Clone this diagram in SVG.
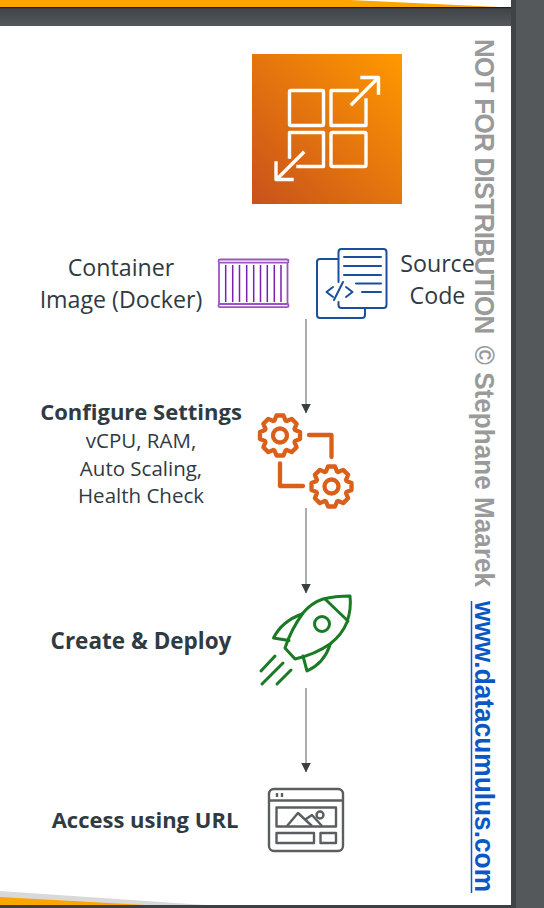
<svg xmlns="http://www.w3.org/2000/svg" width="544" height="908" viewBox="0 0 544 908">
<style>
.t{font-family:"Open Sans","Noto Sans","Liberation Sans",sans-serif;fill:#2f3a42;text-anchor:middle}
.r{font-size:23.200px}
.s{font-size:20.500px}
.b{font-weight:700;font-size:22px}
.w{fill:none;stroke:#fff;stroke-width:3.400;stroke-linejoin:round;stroke-linecap:square}
.pur{fill:none;stroke:#9a55c2;stroke-width:1.800}
.blu{fill:none;stroke:#1a4f9c;stroke-width:2;stroke-linecap:round;stroke-linejoin:round}
.org{fill:none;stroke:#d9601a;stroke-width:4.300;stroke-linejoin:round;stroke-linecap:round}
.grn{fill:none;stroke:#1b7a24;stroke-width:3;stroke-linejoin:round;stroke-linecap:round}
.gry{fill:none;stroke:#5b5e60;stroke-width:2.400;stroke-linejoin:round}
.c{fill:none;stroke:#8a8a8a;stroke-width:1.400}
</style>
<defs>
<linearGradient id="g" x1="0" y1="1" x2="1" y2="0"><stop offset="0" stop-color="#c8511b"/><stop offset="1" stop-color="#ff9900"/></linearGradient>
<linearGradient id="bar" x1="0" y1="0" x2="0" y2="1"><stop offset="0" stop-color="#3f4347"/><stop offset="1" stop-color="#55595c"/></linearGradient>
<marker id="a" viewBox="0 0 10 10" refX="9.500" refY="5" markerWidth="10" markerHeight="10" markerUnits="userSpaceOnUse" orient="auto"><path d="M0 0L10 5L0 10Z" fill="#3a3f42"/></marker>
<g id="gear"><path class="org" d="M-5.500-15L-3.500-20L3.500-20L5.500-15L6.720-14.500L11.670-16.620L16.620-11.670L14.500-6.720L15-5.500L20-3.500L20 3.500L15 5.500L14.500 6.720L16.620 11.670L11.670 16.620L6.720 14.500L5.500 15L3.500 20L-3.500 20L-5.500 15L-6.720 14.500L-11.670 16.620L-16.620 11.670L-14.500 6.720L-15 5.500L-20 3.500L-20-3.500L-15-5.500L-14.500-6.720L-16.620-11.670L-11.670-16.620L-6.720-14.500Z"/><circle class="org" r="7"/></g>
</defs>
<rect width="544" height="908" fill="#fff"/>
<g id="frame">
<path d="M0 0H510V7H0Z" fill="#fba500"/>
<path d="M350 0L510 7.500V0Z" fill="#fff"/>
<path d="M0 8H511V26H0Z" fill="url(#bar)"/>
<rect y="7" width="511" height="1.200" fill="#1c2024"/>
<rect x="511" width="33" height="908" fill="#54585b"/>
<rect x="511" width="5" height="908" fill="#3f4347"/>
<path d="M0 891L205 905H0Z" fill="#d9d9d9"/>
<path d="M0 897L145 905H0Z" fill="#fba500"/>
<rect y="905" width="511" height="3" fill="#3c4044"/>
</g>
<g id="watermark" font-family="'Liberation Sans',Arial,sans-serif" font-weight="700" font-size="28">
<text transform="translate(475 39) rotate(90) scale(.934 1)" fill="#9a9a9a"><tspan letter-spacing="-.86">NOT FOR DISTRIBUTION</tspan> <tspan dx="5">©</tspan> Stephane Maarek</text>
<text transform="translate(475 601) rotate(90) scale(.939 1)" fill="#0b57c4">www.datacumulus.com</text>
<line x1="471.500" y1="601" x2="471.500" y2="893" stroke="#0b57c4" stroke-width="1.500"/>
</g>
<g id="connectors">
<line class="c" x1="306" y1="319" x2="306" y2="413" marker-end="url(#a)"/>
<line class="c" x1="306" y1="508" x2="306" y2="593" marker-end="url(#a)"/>
<line class="c" x1="306" y1="688" x2="306" y2="772" marker-end="url(#a)"/>
</g>
<g id="node-scale">
<rect x="252" y="54" width="150" height="150" fill="url(#g)"/>
<rect class="w" x="289.500" y="90.500" width="34" height="35" rx="1.500"/>
<path class="w" d="M357 90.500H331V125.500H366V100"/>
<rect class="w" x="331" y="132.500" width="35" height="34" rx="1.500"/>
<path class="w" d="M289.500 157V132.500H323.500V166.500H298"/>
<path class="w" d="M352 104L377 79M362 77.500H378.500V93"/>
<path class="w" d="M303 153L277 179M276 163V179.500H292"/>
</g>
<g id="node-container">
<text class="t r" x="121" y="276">Container</text>
<text class="t r" x="121" y="307.500">Image (Docker)</text>
<rect class="pur" x="218.500" y="259.500" width="70" height="3.200" rx="1.500"/>
<rect class="pur" x="218.500" y="304" width="70" height="3.200" rx="1.500"/>
<path class="pur" d="M219 263V304M287.500 263V304"/>
<path fill="none" stroke="#7a1fb0" stroke-width="1.500" d="M225.700 265V302M232.700 265V302M239.500 265V302M246.700 265V302M253.700 265V302M260.500 265V302M267.300 265V302M274.300 265V302M281 265V302"/>
</g>
<g id="node-source">
<path class="blu" d="M338 259H320Q317 259 317 262V315Q317 318 320 318H362Q365 318 365 315V308"/>
<path class="blu" d="M338.500 282V252Q338.500 249 341.500 249H383.500Q386.500 249 386.500 252V305Q386.500 308 383.500 308H341.500Q338.500 308 338.500 305V302"/>
<path class="blu" d="M344 257H381M344 266H381M344 275H381M356 283.500H381M362 292H381M333 287L326.500 292L333 297M346 287L352.500 292L346 297M343 282L334 300"/>
<text class="t r" x="437.500" y="272">Source</text>
<text class="t r" x="437.500" y="304">Code</text>
</g>
<g id="node-configure">
<text class="t b" x="141" y="420">Configure Settings</text>
<text class="t s" x="141" y="448">vCPU, RAM,</text>
<text class="t s" x="141" y="476">Auto Scaling,</text>
<text class="t s" x="141" y="503">Health Check</text>
<use href="#gear" x="280" y="435.500"/>
<path class="org" d="M309 435H331.500V457"/>
<path class="org" d="M280 463.500V486H303"/>
<use href="#gear" x="331.500" y="486.500"/>
</g>
<g id="node-deploy">
<text class="t b" x="141" y="649" style="font-size:22.500px">Create &amp; Deploy</text>
<path class="grn" d="M350 596C340 596 331 597 323 599C314 602 308 607 303 613C295 624 289 636 285 648L295 659C308 656 320 651 330 644C339 637 344 630 347 622C350 613 351 604 350 596Z"/>
<path class="grn" d="M325 599L348 621"/>
<circle class="grn" cx="322" cy="624" r="7.500"/>
<path class="grn" d="M302 614C288 619 279 627 273.500 638L289 640.500"/>
<path class="grn" d="M330 645C326 657 318 666 307 671L303 656"/>
<path class="grn" d="M275 656L261 671M283 663L262 684M291 670L277 684"/>
</g>
<g id="node-url">
<text class="t b" x="145" y="828">Access using URL</text>
<rect class="gry" x="269" y="789" width="74" height="62" rx="5"/>
<path class="gry" d="M269 800.500H343"/>
<path class="gry" d="M277 793V797M282 793V797"/>
<rect class="gry" x="276.500" y="807.500" width="59.500" height="19"/>
<path class="gry" d="M287 826L298 813L312 826M306 819L312 815L322 826"/>
<circle class="gry" stroke-width="1.800" cx="320" cy="815" r="3.500"/>
<rect class="gry" x="276.500" y="833" width="37.500" height="10"/>
<rect class="gry" x="320.500" y="833" width="15.500" height="10"/>
</g>
</svg>
